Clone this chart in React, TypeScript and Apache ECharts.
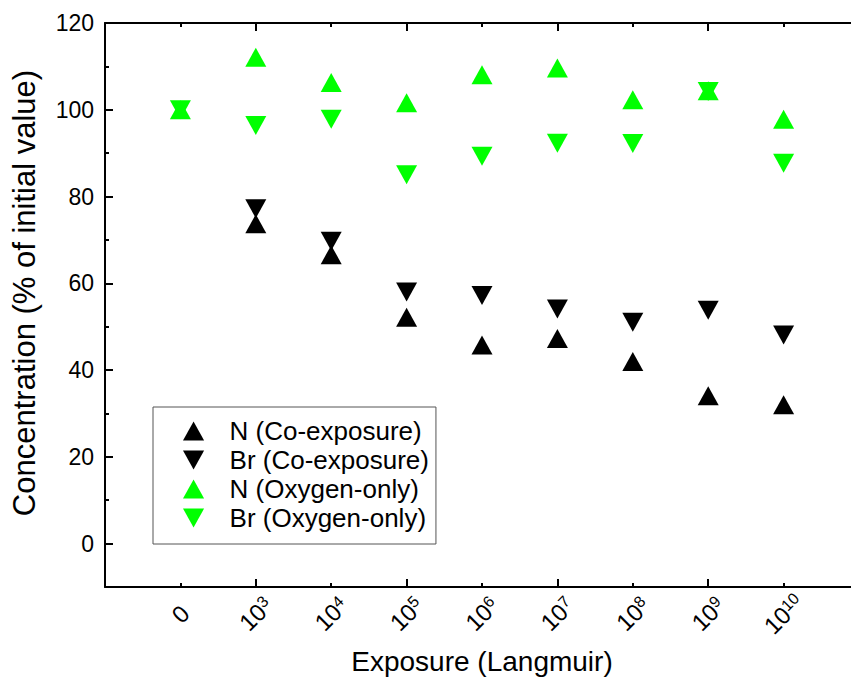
import React, { useEffect, useRef } from 'react';
import * as echarts from 'echarts';

// Exposure categories (Langmuir); "^" marks the exponent
const exposureLabels = ['0', '10^3', '10^4', '10^5', '10^6', '10^7', '10^8', '10^9', '10^10'];
const xLabelPositions = [0, 1, 2, 3, 4, 5, 6, 7, 8];
const xMajorTicks = [1, 3, 5, 7];
const xMinorTicks = [0, 2, 4, 6, 8];
const yMajorTicks = [0, 20, 40, 60, 80, 100, 120];
const yMinorTicks = [10, 30, 50, 70, 90, 110];

// Concentration (% of initial value)
const nCoExposure = [null, 73.7, 66.6, 52.2, 45.8, 47.3, 42.0, 34.1, 32.0];
const brCoExposure = [null, 77.2, 69.7, 58.0, 57.2, 54.1, 51.0, 53.8, 48.1];
const nOxygenOnly = [100, 112.1, 106.3, 101.6, 108.1, 109.6, 102.3, 104.4, 97.8];
const brOxygenOnly = [100, 96.4, 97.8, 85.0, 89.3, 92.3, 92.2, 104.2, 87.7];

const seriesNames = ['N (Co-exposure)', 'Br (Co-exposure)', 'N (Oxygen-only)', 'Br (Oxygen-only)'];

const FONT = '"Liberation Sans", Arial, Helvetica, sans-serif';
const UP = 'path://M10,0 L20,18 L0,18 Z';
const DOWN = 'path://M0,0 L20,0 L10,18 Z';

function toPoints(arr: (number | null)[]) {
  const out: number[][] = [];
  arr.forEach((v, i) => {
    if (v !== null) out.push([i, v]);
  });
  return out;
}

function xAxis(position: string, ticks: number[], len: number, showLine: boolean, labels: boolean, name?: string) {
  return {
    type: 'value',
    position,
    min: -1,
    max: 9,
    name: name || '',
    nameLocation: 'middle',
    nameGap: 60,
    nameTextStyle: { fontSize: 28, fontFamily: FONT, color: '#000' },
    axisLine: { show: showLine, onZero: false, lineStyle: { color: '#000', width: 2 } },
    axisTick: { show: true, inside: true, length: len, customValues: ticks, lineStyle: { color: '#000', width: 2 } },
    axisLabel: labels
      ? {
          show: true,
          customValues: xLabelPositions,
          rotate: 45,
          align: 'center',
          verticalAlign: 'middle',
          margin: 27,
          fontSize: 24,
          fontFamily: FONT,
          color: '#000',
          formatter: (val: number) => {
            const s = exposureLabels[Math.round(val)];
            if (!s) return '';
            const parts = s.split('^');
            return parts.length > 1 ? `${parts[0]}{s|${parts[1]}}` : parts[0];
          },
          rich: {
            s: { fontSize: 16, fontFamily: FONT, color: '#000', verticalAlign: 'top' },
          },
        }
      : { show: false },
    splitLine: { show: false },
  };
}

function yAxis(position: string, ticks: number[], len: number, showLine: boolean, labels: boolean, name?: string) {
  return {
    type: 'value',
    position,
    min: -10,
    max: 120,
    name: name || '',
    nameLocation: 'middle',
    nameGap: 65,
    nameTextStyle: { fontSize: 31, fontFamily: FONT, color: '#000', padding: [0, 0, 0, 24] },
    axisLine: { show: showLine, onZero: false, lineStyle: { color: '#000', width: 2 } },
    axisTick: { show: true, inside: true, length: len, customValues: ticks, lineStyle: { color: '#000', width: 2 } },
    axisLabel: labels
      ? { show: true, customValues: yMajorTicks, margin: 11, fontSize: 23, fontFamily: FONT, color: '#000' }
      : { show: false },
    splitLine: { show: false },
  };
}

export default function App() {
  const ref = useRef<HTMLDivElement>(null);

  useEffect(() => {
    document.body.style.margin = '0';
    if (!ref.current) return;
    const chart = echarts.init(ref.current, null, { renderer: 'svg' });
    const symbols = [UP, DOWN, UP, DOWN];
    const colors = ['#000000', '#000000', '#00ff00', '#00ff00'];
    const dataSets = [nCoExposure, brCoExposure, nOxygenOnly, brOxygenOnly];
    chart.setOption({
      animation: false,
      backgroundColor: '#ffffff',
      grid: { left: 105, top: 23, right: -8, bottom: 96, containLabel: false, outerBoundsMode: 'none' },
      xAxis: [
        xAxis('bottom', xMajorTicks, 8, true, true, 'Exposure (Langmuir)'),
        xAxis('bottom', xMinorTicks, 4, false, false),
        xAxis('top', xMajorTicks, 8, true, false),
        xAxis('top', xMinorTicks, 4, false, false),
      ],
      yAxis: [
        yAxis('left', yMajorTicks, 8, true, true, 'Concentration (% of initial value)'),
        yAxis('left', yMinorTicks, 4, false, false),
        yAxis('right', yMajorTicks, 8, true, false),
        yAxis('right', yMinorTicks, 4, false, false),
      ],
      legend: {
        orient: 'vertical',
        left: 153,
        top: 407,
        padding: [11, 7, 13, 30],
        itemGap: 3,
        itemWidth: 62,
        itemHeight: 19,
        symbolKeepAspect: true,
        borderColor: '#555555',
        borderWidth: 1,
        backgroundColor: '#ffffff',
        textStyle: { fontSize: 26, fontFamily: FONT, color: '#000' },
        data: seriesNames.map((n, i) => ({ name: n, icon: symbols[i] })),
      },
      series: seriesNames.map((name, i) => ({
        name,
        type: 'scatter',
        xAxisIndex: 0,
        yAxisIndex: 0,
        symbol: symbols[i],
        symbolSize: [21, 19],
        itemStyle: { color: colors[i], opacity: 1 },
        data: toPoints(dataSets[i]),
        z: 2 + i,
      })),
    });
    return () => chart.dispose();
  }, []);

  return <div ref={ref} style={{ width: 851, height: 683 }} />;
}
